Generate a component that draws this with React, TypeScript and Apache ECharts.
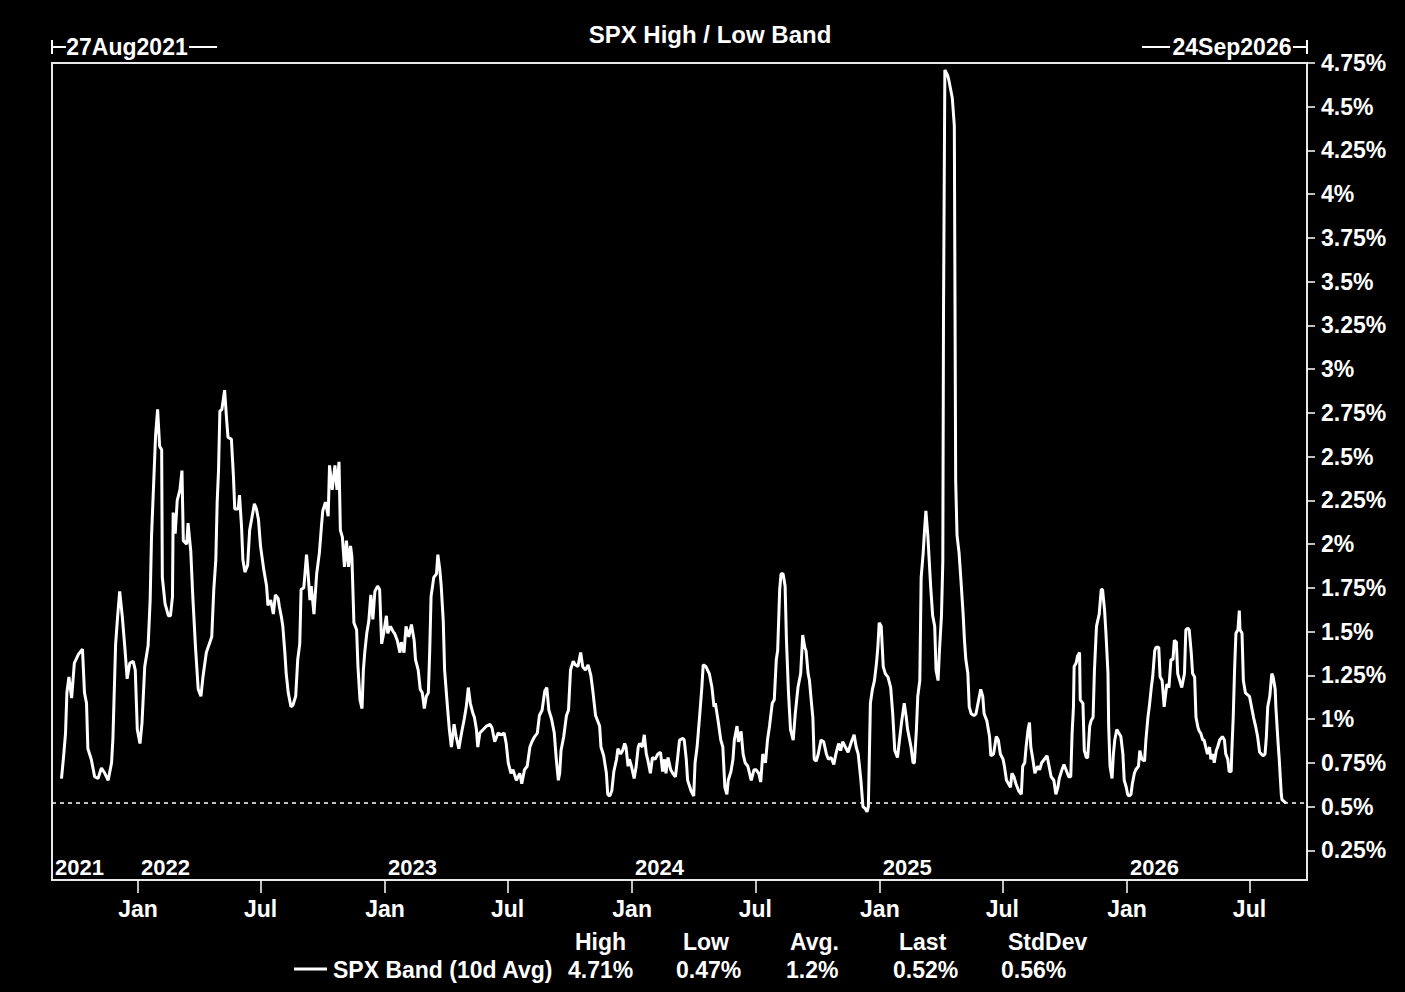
import React, { useEffect, useRef } from 'react';
import * as echarts from 'echarts';

// ---------------- data ----------------
const TITLE = 'SPX High / Low Band';
const START_LABEL = '27Aug2021';
const END_LABEL = '24Sep2026';
const AXIS_START = '2021-08-27';
const AXIS_END = '2026-09-24';
const SERIES_NAME = 'SPX Band (10d Avg)';
const STAT_HEADERS = ['High', 'Low', 'Avg.', 'Last', 'StdDev'];
const STAT_VALUES = ['4.71%', '0.47%', '1.2%', '0.52%', '0.56%'];
const LAST_VALUE = 0.52;
const Y_MIN = 0.08;
const Y_MAX = 4.75;
const Y_TICKS = [0.25, 0.5, 0.75, 1, 1.25, 1.5, 1.75, 2, 2.25, 2.5, 2.75, 3, 3.25, 3.5, 3.75, 4, 4.25, 4.5, 4.75];
const MONTH_TICKS = ['2022-01-01', '2022-07-01', '2023-01-01', '2023-07-01', '2024-01-01', '2024-07-01', '2025-01-01', '2025-07-01', '2026-01-01', '2026-07-01'];
const YEAR_STARTS = ['2021-08-27', '2022-01-01', '2023-01-01', '2024-01-01', '2025-01-01', '2026-01-01'];

type Pt = [string, number];

const band2021: Pt[] = [
  ['2021-09-10', 0.66], ['2021-09-13', 0.78], ['2021-09-16', 0.92], ['2021-09-18', 1.15], ['2021-09-21', 1.24],
  ['2021-09-25', 1.12], ['2021-09-29', 1.32], ['2021-10-05', 1.37], ['2021-10-11', 1.40], ['2021-10-14', 1.15],
  ['2021-10-17', 1.09], ['2021-10-19', 0.83], ['2021-10-24', 0.77], ['2021-10-29', 0.67], ['2021-11-03', 0.66],
  ['2021-11-08', 0.72], ['2021-11-13', 0.69], ['2021-11-18', 0.65], ['2021-11-23', 0.75], ['2021-11-25', 0.89],
  ['2021-11-29', 1.43], ['2021-12-02', 1.59], ['2021-12-05', 1.73], ['2021-12-09', 1.58], ['2021-12-13', 1.39],
  ['2021-12-16', 1.23], ['2021-12-20', 1.32], ['2021-12-25', 1.33], ['2021-12-28', 1.28], ['2021-12-31', 0.94],
];

const band2022: Pt[] = [
  ['2022-01-04', 0.86], ['2022-01-07', 0.98], ['2022-01-11', 1.30], ['2022-01-16', 1.42], ['2022-01-19', 1.68],
  ['2022-01-21', 2.04], ['2022-01-24', 2.33], ['2022-01-27', 2.62], ['2022-01-30', 2.77], ['2022-02-02', 2.56],
  ['2022-02-05', 2.54], ['2022-02-06', 1.81], ['2022-02-10', 1.66], ['2022-02-15', 1.59], ['2022-02-18', 1.59],
  ['2022-02-21', 1.70], ['2022-02-22', 2.18], ['2022-02-25', 2.06], ['2022-02-28', 2.25], ['2022-03-04', 2.31],
  ['2022-03-07', 2.42], ['2022-03-09', 2.02], ['2022-03-14', 2.00], ['2022-03-16', 2.12], ['2022-03-20', 1.96],
  ['2022-03-23', 1.70], ['2022-03-27', 1.41], ['2022-03-31', 1.17], ['2022-04-04', 1.13], ['2022-04-07', 1.24],
  ['2022-04-12', 1.38], ['2022-04-20', 1.47], ['2022-04-23', 1.74], ['2022-04-26', 1.91], ['2022-04-28', 2.24],
  ['2022-04-30', 2.42], ['2022-05-02', 2.76], ['2022-05-05', 2.77], ['2022-05-09', 2.88], ['2022-05-12', 2.71],
  ['2022-05-14', 2.61], ['2022-05-19', 2.60], ['2022-05-22', 2.39], ['2022-05-24', 2.20], ['2022-05-29', 2.20],
  ['2022-05-31', 2.28], ['2022-06-03', 2.10], ['2022-06-05', 1.91], ['2022-06-08', 1.84], ['2022-06-12', 1.88],
  ['2022-06-15', 2.08], ['2022-06-22', 2.23], ['2022-06-25', 2.20], ['2022-06-28', 2.14], ['2022-07-01', 1.99],
  ['2022-07-06', 1.85], ['2022-07-10', 1.76], ['2022-07-12', 1.65], ['2022-07-16', 1.68], ['2022-07-20', 1.60],
  ['2022-07-23', 1.71], ['2022-07-27', 1.69], ['2022-07-29', 1.64], ['2022-08-01', 1.58], ['2022-08-03', 1.53],
  ['2022-08-06', 1.38], ['2022-08-08', 1.26], ['2022-08-11', 1.15], ['2022-08-15', 1.07], ['2022-08-18', 1.08],
  ['2022-08-22', 1.13], ['2022-08-25', 1.34], ['2022-08-28', 1.43], ['2022-08-30', 1.74], ['2022-09-03', 1.75],
  ['2022-09-07', 1.94], ['2022-09-09', 1.85], ['2022-09-12', 1.68], ['2022-09-14', 1.76], ['2022-09-18', 1.60],
  ['2022-09-22', 1.83], ['2022-09-26', 1.95], ['2022-09-29', 2.10], ['2022-10-01', 2.19], ['2022-10-05', 2.24],
  ['2022-10-09', 2.16], ['2022-10-11', 2.45], ['2022-10-15', 2.31], ['2022-10-19', 2.45], ['2022-10-22', 2.31],
  ['2022-10-25', 2.47], ['2022-10-27', 2.08], ['2022-10-30', 2.04], ['2022-11-02', 1.87], ['2022-11-05', 2.02],
  ['2022-11-08', 1.87], ['2022-11-11', 1.99], ['2022-11-13', 1.93], ['2022-11-16', 1.55], ['2022-11-20', 1.51],
  ['2022-11-22', 1.30], ['2022-11-25', 1.11], ['2022-11-28', 1.06], ['2022-11-30', 1.28], ['2022-12-02', 1.38],
  ['2022-12-05', 1.49], ['2022-12-08', 1.56], ['2022-12-11', 1.71], ['2022-12-14', 1.57], ['2022-12-17', 1.73],
  ['2022-12-21', 1.76], ['2022-12-24', 1.74], ['2022-12-27', 1.43], ['2022-12-30', 1.49],
];

const band2023: Pt[] = [
  ['2023-01-03', 1.59], ['2023-01-05', 1.49], ['2023-01-09', 1.53], ['2023-01-13', 1.50], ['2023-01-15', 1.49],
  ['2023-01-19', 1.45], ['2023-01-23', 1.38], ['2023-01-25', 1.44], ['2023-01-29', 1.38], ['2023-02-01', 1.53],
  ['2023-02-05', 1.47], ['2023-02-09', 1.54], ['2023-02-13', 1.45], ['2023-02-15', 1.34], ['2023-02-19', 1.28],
  ['2023-02-22', 1.17], ['2023-02-25', 1.15], ['2023-02-28', 1.06], ['2023-03-03', 1.13], ['2023-03-06', 1.15],
  ['2023-03-08', 1.39], ['2023-03-10', 1.70], ['2023-03-14', 1.81], ['2023-03-18', 1.83], ['2023-03-20', 1.94],
  ['2023-03-23', 1.85], ['2023-03-25', 1.76], ['2023-03-28', 1.56], ['2023-03-30', 1.28], ['2023-04-03', 1.08],
  ['2023-04-06', 0.94], ['2023-04-09', 0.84], ['2023-04-13', 0.97], ['2023-04-16', 0.90], ['2023-04-20', 0.83],
  ['2023-04-24', 0.92], ['2023-04-28', 1.00], ['2023-05-01', 1.07], ['2023-05-04', 1.18], ['2023-05-07', 1.09],
  ['2023-05-11', 1.03], ['2023-05-13', 1.01], ['2023-05-16', 0.94], ['2023-05-18', 0.84], ['2023-05-21', 0.92],
  ['2023-05-26', 0.94], ['2023-05-31', 0.96], ['2023-06-05', 0.97], ['2023-06-08', 0.95], ['2023-06-12', 0.87],
  ['2023-06-17', 0.92], ['2023-06-22', 0.91], ['2023-06-26', 0.92], ['2023-06-29', 0.86], ['2023-07-02', 0.75],
  ['2023-07-06', 0.69], ['2023-07-09', 0.71], ['2023-07-14', 0.65], ['2023-07-19', 0.69], ['2023-07-22', 0.63],
  ['2023-07-26', 0.71], ['2023-07-30', 0.73], ['2023-08-03', 0.84], ['2023-08-06', 0.87], ['2023-08-10', 0.90],
  ['2023-08-14', 0.92], ['2023-08-17', 1.02], ['2023-08-21', 1.05], ['2023-08-25', 1.16], ['2023-08-28', 1.18],
  ['2023-08-31', 1.05], ['2023-09-04', 1.00], ['2023-09-08', 0.92], ['2023-09-11', 0.77], ['2023-09-14', 0.65],
  ['2023-09-16', 0.69], ['2023-09-18', 0.82], ['2023-09-22', 0.90], ['2023-09-26', 1.02], ['2023-09-29', 1.05],
  ['2023-10-02', 1.28], ['2023-10-06', 1.33], ['2023-10-09', 1.31], ['2023-10-13', 1.30], ['2023-10-17', 1.38],
  ['2023-10-20', 1.30], ['2023-10-24', 1.28], ['2023-10-28', 1.31], ['2023-11-01', 1.25], ['2023-11-04', 1.16],
  ['2023-11-08', 1.02], ['2023-11-11', 0.99], ['2023-11-14', 0.96], ['2023-11-16', 0.84], ['2023-11-20', 0.79],
  ['2023-11-24', 0.69], ['2023-11-26', 0.57], ['2023-11-29', 0.56], ['2023-12-02', 0.59], ['2023-12-05', 0.70],
  ['2023-12-09', 0.77], ['2023-12-11', 0.83], ['2023-12-15', 0.80], ['2023-12-18', 0.82], ['2023-12-21', 0.86],
  ['2023-12-23', 0.84], ['2023-12-26', 0.73], ['2023-12-28', 0.77], ['2023-12-31', 0.73],
];

const band2024: Pt[] = [
  ['2024-01-04', 0.66], ['2024-01-07', 0.73], ['2024-01-10', 0.84], ['2024-01-12', 0.86], ['2024-01-16', 0.84],
  ['2024-01-19', 0.91], ['2024-01-22', 0.80], ['2024-01-24', 0.77], ['2024-01-28', 0.69], ['2024-01-31', 0.78],
  ['2024-02-04', 0.77], ['2024-02-08', 0.80], ['2024-02-12', 0.81], ['2024-02-15', 0.70], ['2024-02-18', 0.77],
  ['2024-02-20', 0.69], ['2024-02-23', 0.78], ['2024-02-27', 0.71], ['2024-03-01', 0.69], ['2024-03-05', 0.67],
  ['2024-03-08', 0.77], ['2024-03-11', 0.88], ['2024-03-16', 0.89], ['2024-03-18', 0.88], ['2024-03-21', 0.77],
  ['2024-03-23', 0.65], ['2024-03-28', 0.59], ['2024-04-01', 0.56], ['2024-04-03', 0.75], ['2024-04-06', 0.84],
  ['2024-04-10', 1.03], ['2024-04-13', 1.18], ['2024-04-15', 1.31], ['2024-04-19', 1.30], ['2024-04-24', 1.26],
  ['2024-04-28', 1.18], ['2024-05-01', 1.07], ['2024-05-03', 1.09], ['2024-05-07', 0.99], ['2024-05-11', 0.88],
  ['2024-05-14', 0.84], ['2024-05-17', 0.61], ['2024-05-20', 0.57], ['2024-05-22', 0.65], ['2024-05-26', 0.70],
  ['2024-05-29', 0.77], ['2024-05-31', 0.88], ['2024-06-04', 0.96], ['2024-06-06', 0.87], ['2024-06-10', 0.93],
  ['2024-06-13', 0.80], ['2024-06-16', 0.75], ['2024-06-20', 0.73], ['2024-06-25', 0.65], ['2024-06-29', 0.71],
  ['2024-07-02', 0.71], ['2024-07-06', 0.69], ['2024-07-09', 0.64], ['2024-07-12', 0.80], ['2024-07-16', 0.75],
  ['2024-07-19', 0.88], ['2024-07-22', 0.96], ['2024-07-26', 1.09], ['2024-07-29', 1.11], ['2024-08-01', 1.34],
  ['2024-08-03', 1.39], ['2024-08-06', 1.74], ['2024-08-08', 1.83], ['2024-08-11', 1.83], ['2024-08-14', 1.76],
  ['2024-08-16', 1.45], ['2024-08-19', 1.15], ['2024-08-22', 0.94], ['2024-08-26', 0.88], ['2024-08-29', 1.03],
  ['2024-09-02', 1.18], ['2024-09-06', 1.26], ['2024-09-09', 1.48], ['2024-09-12', 1.41], ['2024-09-14', 1.39],
  ['2024-09-17', 1.26], ['2024-09-19', 1.22], ['2024-09-22', 1.09], ['2024-09-24', 1.01], ['2024-09-26', 0.77],
  ['2024-09-29', 0.76], ['2024-10-02', 0.80], ['2024-10-06', 0.88], ['2024-10-10', 0.87], ['2024-10-14', 0.80],
  ['2024-10-17', 0.77], ['2024-10-21', 0.78], ['2024-10-25', 0.74], ['2024-10-28', 0.80], ['2024-11-01', 0.86],
  ['2024-11-04', 0.82], ['2024-11-07', 0.87], ['2024-11-11', 0.84], ['2024-11-15', 0.81], ['2024-11-20', 0.87],
  ['2024-11-24', 0.91], ['2024-11-27', 0.84], ['2024-11-30', 0.80], ['2024-12-04', 0.65], ['2024-12-07', 0.50],
  ['2024-12-10', 0.49], ['2024-12-13', 0.47], ['2024-12-15', 0.50], ['2024-12-18', 1.09], ['2024-12-21', 1.17],
  ['2024-12-24', 1.22], ['2024-12-27', 1.32], ['2024-12-29', 1.41], ['2024-12-31', 1.55],
];

const band2025: Pt[] = [
  ['2025-01-03', 1.53], ['2025-01-06', 1.30], ['2025-01-09', 1.26], ['2025-01-13', 1.24], ['2025-01-17', 1.18],
  ['2025-01-20', 1.03], ['2025-01-23', 0.82], ['2025-01-25', 0.80], ['2025-01-27', 0.78], ['2025-01-30', 0.88],
  ['2025-02-02', 0.98], ['2025-02-06', 1.09], ['2025-02-09', 1.01], ['2025-02-11', 0.94], ['2025-02-14', 0.88],
  ['2025-02-16', 0.84], ['2025-02-19', 0.75], ['2025-02-21', 0.75], ['2025-02-24', 0.94], ['2025-02-26', 1.13],
  ['2025-03-01', 1.22], ['2025-03-03', 1.81], ['2025-03-06', 1.95], ['2025-03-08', 2.08], ['2025-03-10', 2.19],
  ['2025-03-13', 2.04], ['2025-03-17', 1.76], ['2025-03-20', 1.59], ['2025-03-23', 1.53], ['2025-03-25', 1.28],
  ['2025-03-28', 1.22], ['2025-03-30', 1.39], ['2025-04-02', 1.59], ['2025-04-04', 1.90], ['2025-04-05', 3.31],
  ['2025-04-07', 4.71], ['2025-04-08', 4.71], ['2025-04-11', 4.68], ['2025-04-13', 4.65], ['2025-04-18', 4.55],
  ['2025-04-21', 4.39], ['2025-04-23', 2.36], ['2025-04-25', 2.05], ['2025-04-28', 1.95], ['2025-05-01', 1.78],
  ['2025-05-04', 1.60], ['2025-05-06', 1.45], ['2025-05-08', 1.34], ['2025-05-11', 1.26], ['2025-05-13', 1.07],
  ['2025-05-16', 1.03], ['2025-05-20', 1.02], ['2025-05-23', 1.03], ['2025-05-27', 1.11], ['2025-05-30', 1.17],
  ['2025-06-02', 1.13], ['2025-06-04', 1.03], ['2025-06-08', 0.99], ['2025-06-12', 0.90], ['2025-06-14', 0.79],
  ['2025-06-18', 0.80], ['2025-06-22', 0.90], ['2025-06-25', 0.88], ['2025-06-28', 0.80], ['2025-07-02', 0.77],
  ['2025-07-04', 0.73], ['2025-07-07', 0.65], ['2025-07-10', 0.63], ['2025-07-13', 0.61], ['2025-07-15', 0.69],
  ['2025-07-18', 0.67], ['2025-07-21', 0.63], ['2025-07-25', 0.59], ['2025-07-29', 0.57], ['2025-07-31', 0.73],
  ['2025-08-03', 0.75], ['2025-08-05', 0.84], ['2025-08-08', 0.94], ['2025-08-10', 0.98], ['2025-08-12', 0.84],
  ['2025-08-15', 0.77], ['2025-08-18', 0.69], ['2025-08-22', 0.73], ['2025-08-25', 0.71], ['2025-08-28', 0.75],
  ['2025-09-01', 0.77], ['2025-09-05', 0.79], ['2025-09-08', 0.73], ['2025-09-11', 0.67], ['2025-09-15', 0.65],
  ['2025-09-18', 0.57], ['2025-09-21', 0.61], ['2025-09-23', 0.66], ['2025-09-27', 0.71], ['2025-09-30', 0.74],
  ['2025-10-03', 0.71], ['2025-10-07', 0.67], ['2025-10-10', 0.67], ['2025-10-12', 0.92], ['2025-10-14', 1.07],
  ['2025-10-15', 1.30], ['2025-10-18', 1.32], ['2025-10-20', 1.36], ['2025-10-23', 1.38], ['2025-10-24', 1.11],
  ['2025-10-28', 1.09], ['2025-10-30', 0.82], ['2025-11-02', 0.78], ['2025-11-04', 0.78], ['2025-11-07', 0.96],
  ['2025-11-09', 0.99], ['2025-11-12', 1.01], ['2025-11-14', 1.28], ['2025-11-17', 1.53], ['2025-11-21', 1.60],
  ['2025-11-24', 1.74], ['2025-11-26', 1.74], ['2025-11-29', 1.62], ['2025-12-01', 1.49], ['2025-12-04', 1.26],
  ['2025-12-05', 0.96], ['2025-12-07', 0.73], ['2025-12-10', 0.66], ['2025-12-12', 0.80], ['2025-12-14', 0.88],
  ['2025-12-17', 0.94], ['2025-12-20', 0.92], ['2025-12-23', 0.90], ['2025-12-26', 0.80], ['2025-12-28', 0.65],
  ['2025-12-31', 0.61],
];

const band2026: Pt[] = [
  ['2026-01-02', 0.57], ['2026-01-04', 0.56], ['2026-01-07', 0.57], ['2026-01-09', 0.63], ['2026-01-12', 0.69],
  ['2026-01-14', 0.71], ['2026-01-18', 0.73], ['2026-01-20', 0.82], ['2026-01-23', 0.77], ['2026-01-27', 0.76],
  ['2026-01-29', 0.88], ['2026-02-01', 1.01], ['2026-02-03', 1.07], ['2026-02-06', 1.18], ['2026-02-08', 1.24],
  ['2026-02-11', 1.39], ['2026-02-13', 1.41], ['2026-02-17', 1.41], ['2026-02-19', 1.24], ['2026-02-22', 1.22],
  ['2026-02-25', 1.07], ['2026-03-01', 1.20], ['2026-03-04', 1.18], ['2026-03-07', 1.34], ['2026-03-10', 1.34],
  ['2026-03-12', 1.45], ['2026-03-15', 1.44], ['2026-03-17', 1.26], ['2026-03-20', 1.22], ['2026-03-23', 1.18],
  ['2026-03-27', 1.26], ['2026-03-29', 1.51], ['2026-04-01', 1.52], ['2026-04-03', 1.51], ['2026-04-06', 1.38],
  ['2026-04-08', 1.26], ['2026-04-11', 1.24], ['2026-04-13', 1.01], ['2026-04-16', 0.95], ['2026-04-18', 0.93],
  ['2026-04-20', 0.92], ['2026-04-23', 0.88], ['2026-04-25', 0.88], ['2026-04-28', 0.83], ['2026-04-30', 0.80],
  ['2026-05-03', 0.84], ['2026-05-05', 0.77], ['2026-05-08', 0.80], ['2026-05-10', 0.75], ['2026-05-13', 0.82],
  ['2026-05-15', 0.84], ['2026-05-18', 0.88], ['2026-05-22', 0.90], ['2026-05-25', 0.88], ['2026-05-27', 0.80],
  ['2026-05-30', 0.77], ['2026-06-01', 0.70], ['2026-06-04', 0.70], ['2026-06-05', 0.82], ['2026-06-07', 1.01],
  ['2026-06-09', 1.28], ['2026-06-11', 1.49], ['2026-06-14', 1.51], ['2026-06-16', 1.62], ['2026-06-17', 1.51],
  ['2026-06-20', 1.49], ['2026-06-22', 1.22], ['2026-06-25', 1.15], ['2026-06-28', 1.14], ['2026-07-01', 1.13],
  ['2026-07-04', 1.07], ['2026-07-07', 1.01], ['2026-07-10', 0.96], ['2026-07-13', 0.90], ['2026-07-16', 0.81],
  ['2026-07-21', 0.79], ['2026-07-24', 0.80], ['2026-07-26', 0.90], ['2026-07-28', 1.07], ['2026-07-31', 1.13],
  ['2026-08-03', 1.26], ['2026-08-05', 1.24], ['2026-08-08', 1.17], ['2026-08-09', 1.07], ['2026-08-12', 0.88],
  ['2026-08-14', 0.77], ['2026-08-17', 0.57], ['2026-08-18', 0.54], ['2026-08-21', 0.53], ['2026-08-24', 0.52],
];

// ---------------- helpers / layout ----------------
const FONT = '"Liberation Sans", Arial, Helvetica, sans-serif';
const WHITE = '#ffffff';

const ts = (s: string): number => {
  const [y, m, d] = s.split('-').map(Number);
  return new Date(y, m - 1, d).getTime();
};

const HEADER_X = [575, 683, 790, 899, 1008];
const VALUE_X = [568, 676, 786, 893, 1001];

function buildOption(): any {
  const all = [...band2021, ...band2022, ...band2023, ...band2024, ...band2025, ...band2026];
  const data = all.map(([d, v]) => [ts(d), v]);
  const monthVals = MONTH_TICKS.map(ts);
  const yearVals = YEAR_STARTS.map(ts);

  const txt = (text: string, x: number, y: number, align: string, size = 23) => ({
    type: 'text',
    x,
    y,
    silent: true,
    style: {
      text,
      fill: WHITE,
      fontFamily: FONT,
      fontWeight: 'bold',
      fontSize: size,
      align,
      verticalAlign: 'middle',
      textAlign: align,
      textVerticalAlign: 'middle',
    },
  });
  const ln = (x1: number, y1: number, x2: number, y2: number, w = 2) => ({
    type: 'line',
    silent: true,
    shape: { x1, y1, x2, y2 },
    style: { stroke: WHITE, lineWidth: w },
  });

  const graphic: any[] = [
    txt(TITLE, 710, 34, 'center', 24),
    ln(52, 40, 52, 54, 2),
    ln(52, 47, 66, 47, 2),
    txt(START_LABEL, 127, 47, 'center', 23),
    ln(189, 47, 217, 47, 2),
    ln(1142, 47, 1170, 47, 2),
    txt(END_LABEL, 1232, 47, 'center', 23),
    ln(1293, 47, 1307, 47, 2),
    ln(1307, 40, 1307, 54, 2),
    ln(294, 969, 327, 969, 3),
    txt(SERIES_NAME, 333, 970, 'left', 23),
  ];
  STAT_HEADERS.forEach((h, i) => graphic.push(txt(h, HEADER_X[i], 942, 'left', 23)));
  STAT_VALUES.forEach((v, i) => graphic.push(txt(v, VALUE_X[i], 970, 'left', 23)));

  const axisFont = { color: WHITE, fontFamily: FONT, fontWeight: 'bold', fontSize: 23 };

  return {
    animation: false,
    backgroundColor: '#000000',
    grid: {
      left: 52,
      right: 98,
      top: 63,
      bottom: 112,
      show: true,
      borderColor: '#e8e8e8',
      borderWidth: 2,
      backgroundColor: '#000000',
    },
    xAxis: [
      {
        type: 'value',
        min: ts(AXIS_START),
        max: ts(AXIS_END),
        position: 'bottom',
        axisLine: { show: false },
        splitLine: { show: false },
        axisTick: {
          show: true,
          customValues: monthVals,
          length: 13,
          lineStyle: { color: WHITE, width: 1.5 },
        },
        axisLabel: {
          ...axisFont,
          customValues: monthVals,
          formatter: (v: number) => (new Date(v).getMonth() === 0 ? 'Jan' : 'Jul'),
          margin: 17,
        },
      },
      {
        type: 'value',
        min: ts(AXIS_START),
        max: ts(AXIS_END),
        position: 'bottom',
        axisLine: { show: false },
        splitLine: { show: false },
        axisTick: { show: false },
        axisLabel: {
          ...axisFont,
          fontSize: 22,
          inside: true,
          customValues: yearVals,
          formatter: (v: number) => String(new Date(v).getFullYear()),
          align: 'left',
          padding: [0, 0, 0, 3],
          margin: 2,
        },
      },
    ],
    yAxis: {
      type: 'value',
      position: 'right',
      min: Y_MIN,
      max: Y_MAX,
      axisLine: { show: false },
      splitLine: { show: false },
      axisTick: {
        show: true,
        customValues: Y_TICKS,
        length: 8,
        lineStyle: { color: WHITE, width: 1.5 },
      },
      axisLabel: {
        ...axisFont,
        customValues: Y_TICKS,
        formatter: (v: number) => `${parseFloat(Number(v).toFixed(2))}%`,
        margin: 14,
      },
    },
    series: [
      {
        name: SERIES_NAME,
        type: 'line',
        xAxisIndex: 0,
        yAxisIndex: 0,
        data,
        showSymbol: false,
        symbol: 'none',
        silent: true,
        lineStyle: { color: WHITE, width: 3 },
        markLine: {
          silent: true,
          symbol: ['none', 'none'],
          label: { show: false },
          lineStyle: { color: WHITE, width: 1.5, type: [4, 4] },
          data: [{ yAxis: LAST_VALUE }],
        },
      },
    ],
    graphic,
  };
}

export default function App() {
  const ref = useRef<HTMLDivElement | null>(null);
  useEffect(() => {
    document.body.style.margin = '0';
    document.body.style.background = '#000';
    if (!ref.current) return;
    const chart = echarts.init(ref.current, undefined, { renderer: 'svg' });
    chart.setOption(buildOption());
    return () => chart.dispose();
  }, []);
  return (
    <div
      ref={ref}
      style={{ position: 'fixed', left: 0, top: 0, width: 1405, height: 992, background: '#000' }}
    />
  );
}
